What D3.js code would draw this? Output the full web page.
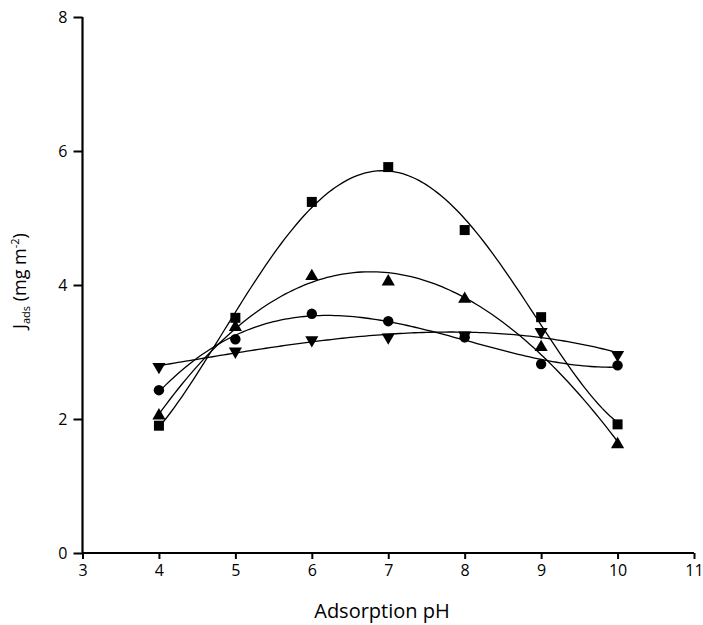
<!DOCTYPE html>
<html><head><meta charset="utf-8">
<script src="https://cdn.jsdelivr.net/npm/d3@7"></script>
<style>body{margin:0;background:#fff}svg{display:block}</style>
</head><body>
<script>
const pH = [4, 5, 6, 7, 8, 9, 10];
const squareVals = [1.90, 3.51, 5.24, 5.76, 4.82, 3.52, 1.92];
const triUpVals = [2.05, 3.37, 4.13, 4.05, 3.79, 3.07, 1.62];
const circleVals = [2.43, 3.19, 3.57, 3.46, 3.22, 2.82, 2.80];
const triDownVals = [2.78, 3.01, 3.18, 3.22, 3.25, 3.30, 2.96];
const xTicks = [3, 4, 5, 6, 7, 8, 9, 10, 11];
const yTicks = [0, 2, 4, 6, 8];

const series = [
  {name: "square", vals: squareVals, sym: d3.symbolSquare, size: 100, deg: 4},
  {name: "triUp", vals: triUpVals, sym: d3.symbolTriangle, size: 75, deg: 3},
  {name: "circle", vals: circleVals, sym: d3.symbolCircle, size: 85, deg: 3},
  {name: "triDown", vals: triDownVals, sym: d3.symbolTriangle, size: 75, rot: 180, deg: 3}
];

const W = 703, H = 625;
const x = d3.scaleLinear().domain([3, 11]).range([82.5, 694]);
const y = d3.scaleLinear().domain([0, 8]).range([553, 17]);

const svg = d3.select("body").append("svg").attr("width", W).attr("height", H);

// least-squares polynomial fit
function polyfit(xs, ys, deg) {
  const n = deg + 1;
  const A = Array.from({length: n}, () => new Array(n + 1).fill(0));
  for (let r = 0; r < n; r++) {
    for (let c = 0; c < n; c++) A[r][c] = d3.sum(xs, v => Math.pow(v - 7, r + c));
    A[r][n] = d3.sum(xs, (v, i) => Math.pow(v - 7, r) * ys[i]);
  }
  for (let i = 0; i < n; i++) {
    let p = i;
    for (let k = i + 1; k < n; k++) if (Math.abs(A[k][i]) > Math.abs(A[p][i])) p = k;
    [A[i], A[p]] = [A[p], A[i]];
    for (let k = 0; k < n; k++) {
      if (k === i) continue;
      const f = A[k][i] / A[i][i];
      for (let c = i; c <= n; c++) A[k][c] -= f * A[i][c];
    }
  }
  return A.map((row, i) => row[n] / row[i]);
}
const evalPoly = (co, v) => co.reduce((s, c, i) => s + c * Math.pow(v - 7, i), 0);

const line = d3.line().x(d => x(d[0])).y(d => y(d[1])).curve(d3.curveLinear);
const g = svg.append("g");
series.forEach(s => {
  const co = polyfit(pH, s.vals, s.deg);
  const pts = d3.range(0, 121).map(i => {
    const v = pH[0] + (pH[pH.length - 1] - pH[0]) * i / 120;
    return [v, evalPoly(co, v)];
  });
  g.append("path").attr("d", line(pts)).attr("fill", "none")
    .attr("stroke", "#000").attr("stroke-width", 1.3);
});
series.forEach(s => {
  g.selectAll(null).data(pH.map((p, i) => [p, s.vals[i]])).enter()
    .append("path")
    .attr("d", d3.symbol().type(s.sym).size(s.size))
    .attr("transform", d => `translate(${x(d[0])},${y(d[1])})` + (s.rot ? ` rotate(${s.rot})` : ""))
    .attr("fill", "#000");
});

// axes
const font = "'Open Sans', 'DejaVu Sans', sans-serif";
const xAxis = svg.append("g").attr("transform", `translate(0,${y(0)})`)
  .call(d3.axisBottom(x).tickValues(xTicks).tickSize(6).tickPadding(6).tickFormat(d3.format("d")));
const yAxis = svg.append("g").attr("transform", `translate(${x(3)},0)`)
  .call(d3.axisLeft(y).tickValues(yTicks).tickSize(9).tickPadding(6).tickFormat(d3.format("d")));
[xAxis, yAxis].forEach(a => {
  a.select(".domain").attr("stroke-width", 2.2).attr("stroke", "#000");
  a.selectAll(".tick line").attr("stroke-width", 2).attr("stroke", "#000");
  a.selectAll("text").attr("font-family", font).attr("font-size", 16).attr("fill", "#000");
});
xAxis.select(".domain").attr("d", `M${x(3)},0H${x(11)}`);
yAxis.select(".domain").attr("d", `M0,${y(0)}V${y(8)}`);

svg.append("text").attr("x", 382).attr("y", 618).attr("text-anchor", "middle")
  .attr("font-family", font).attr("font-size", 20).text("Adsorption pH");

const yl = svg.append("text").attr("transform", "translate(26,281) rotate(-90)")
  .attr("text-anchor", "middle").attr("font-family", font).attr("font-size", 18);
yl.append("tspan").text("J");
yl.append("tspan").attr("font-size", 11).attr("dy", 4).text("ads");
yl.append("tspan").attr("dy", -4).text(" (mg m");
yl.append("tspan").attr("font-size", 11).attr("dy", -7).text("-2");
yl.append("tspan").attr("dy", 7).text(")");
</script>
</body></html>
